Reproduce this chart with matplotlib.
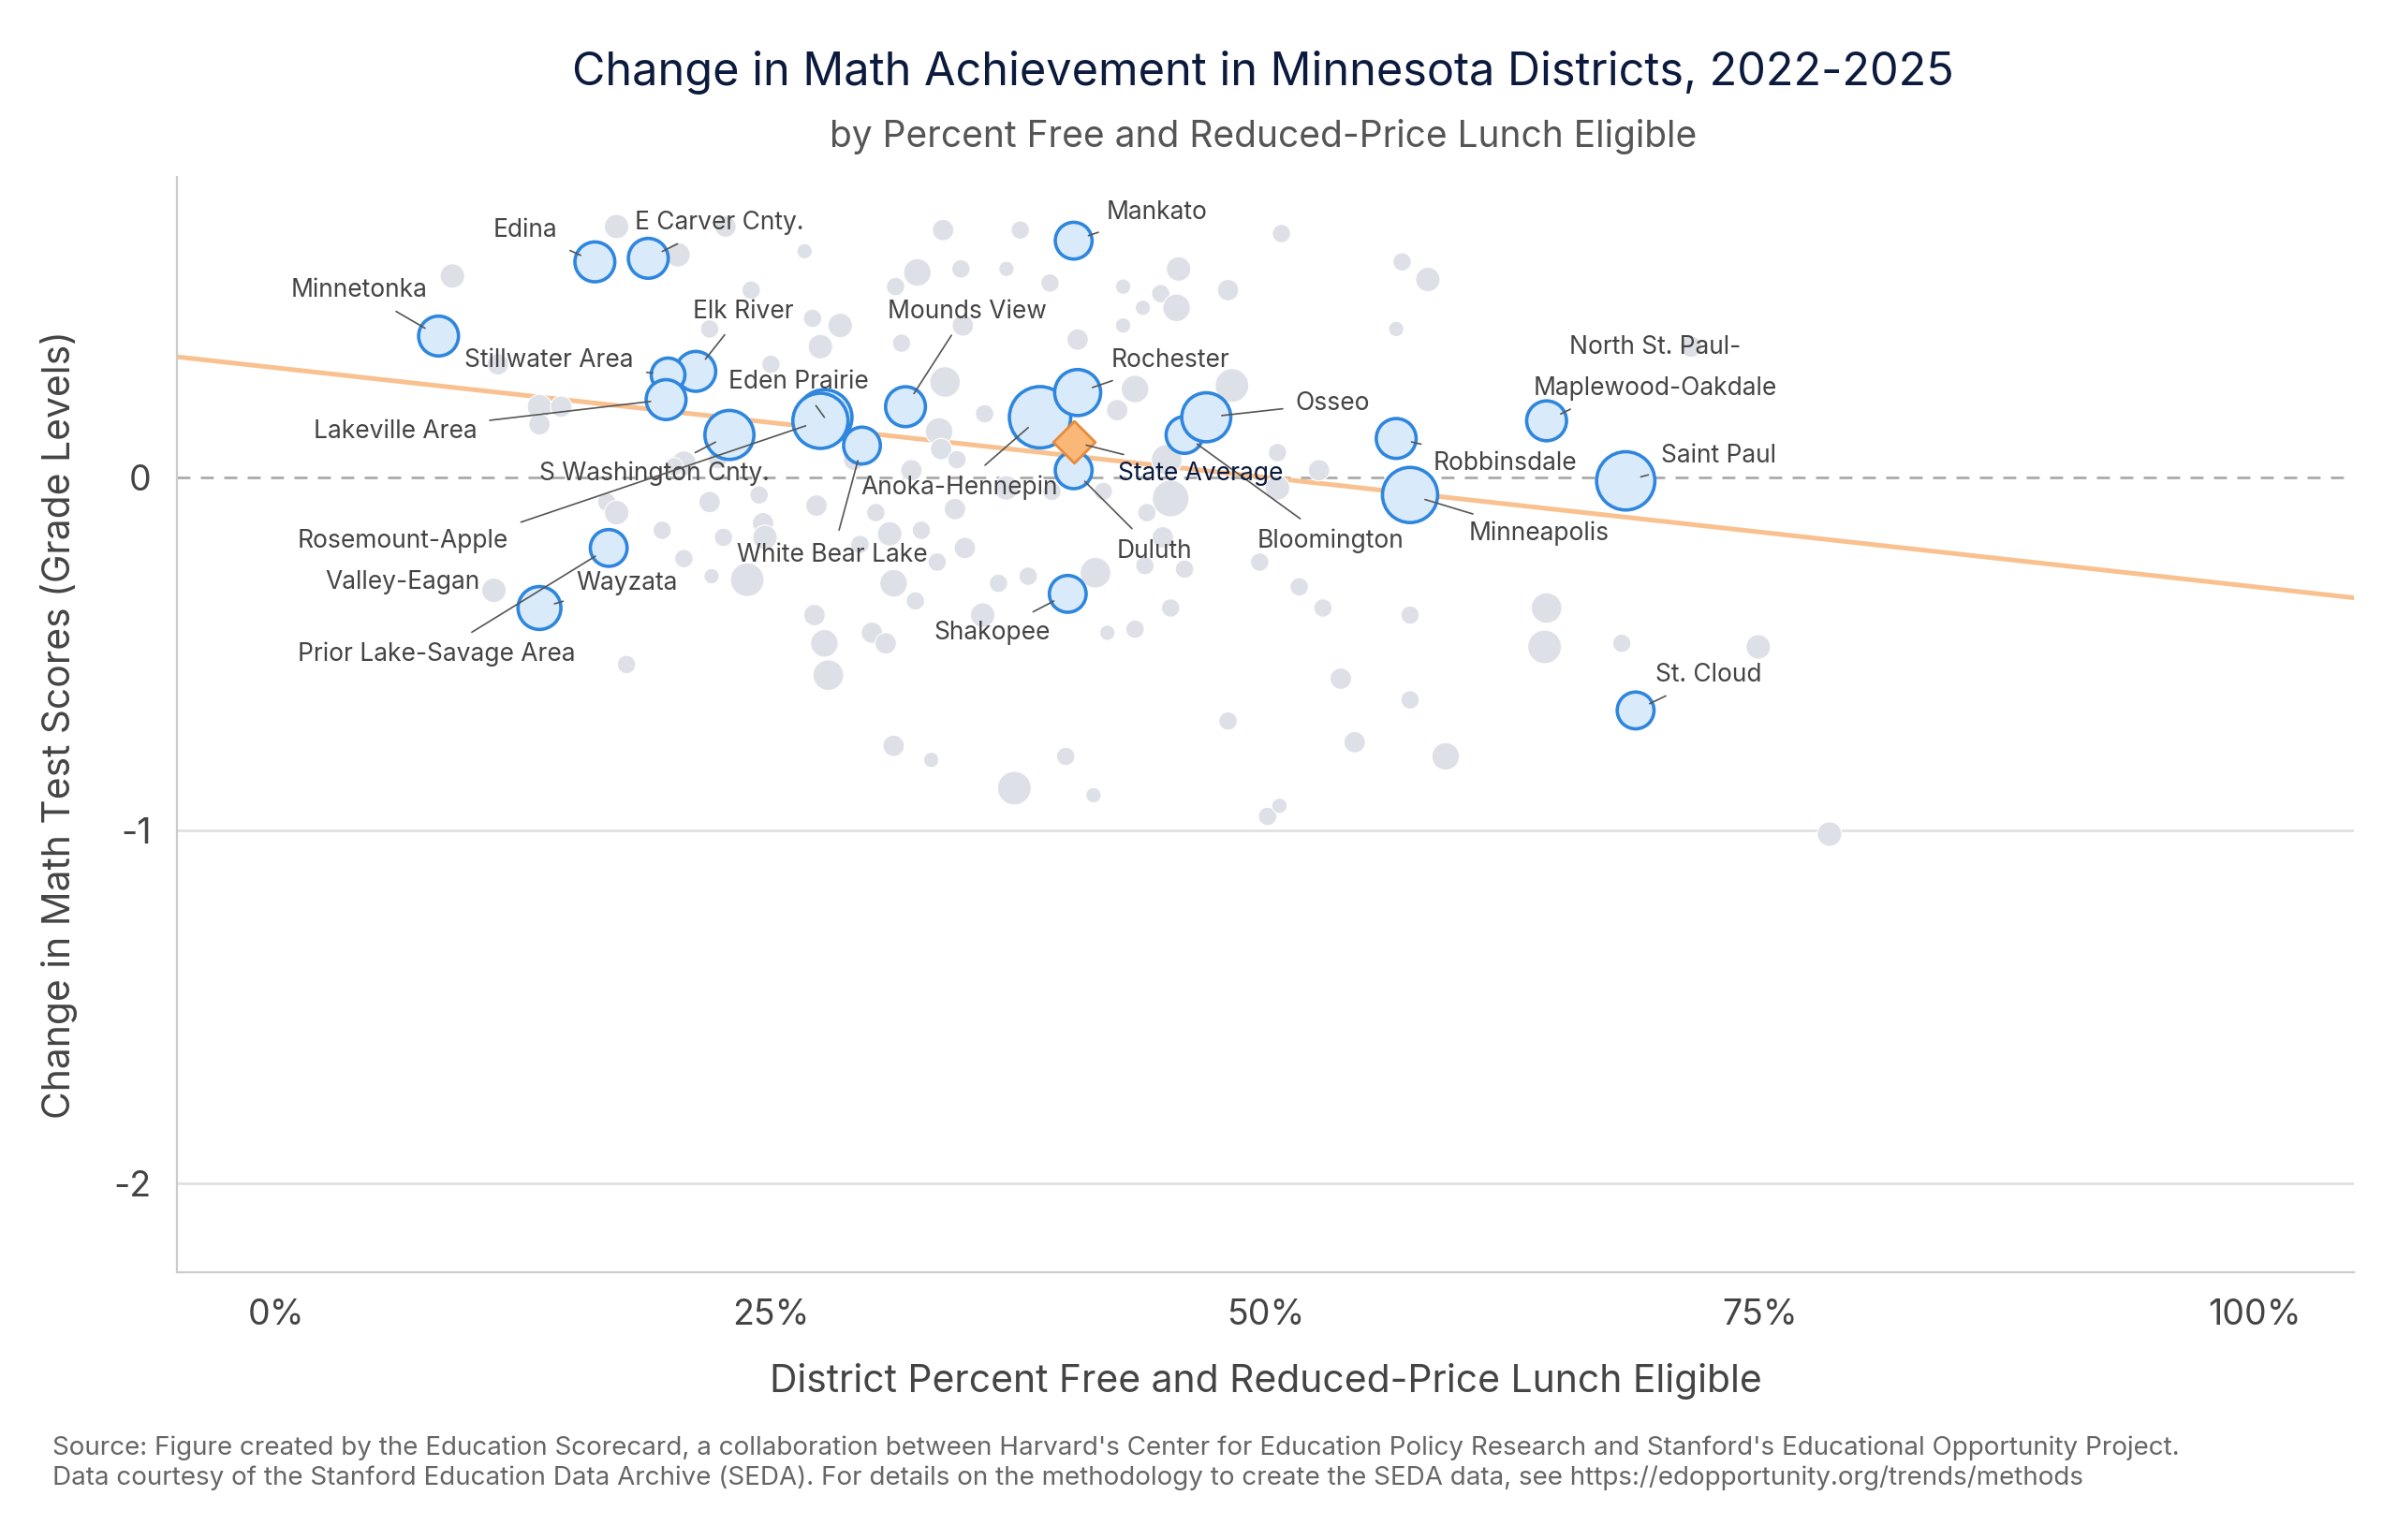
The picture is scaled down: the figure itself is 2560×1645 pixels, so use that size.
import matplotlib.pyplot as plt
from matplotlib.ticker import FuncFormatter

plt.rcParams["font.family"] = ["Inter", "DejaVu Sans"]

# background districts: percent FRL, change in grade levels, marker size (pt^2)
bg_x = [8.9, 17.2, 20.3, 22.7, 26.7, 33.7, 37.6, 50.8, 56.9, 58.2, 45.6, 32.4, 31.3, 34.6, 36.9,
        39.1, 42.8, 44.7, 48.1, 45.5, 43.8, 24.0, 28.5, 27.1, 27.5, 21.9, 34.7, 40.5, 42.8, 56.6,
        71.5, 11.2, 13.3, 14.4, 13.3, 20.6, 20.1, 21.9, 22.3, 24.4, 24.6, 24.7, 22.6, 19.5, 22.0,
        20.6, 23.8, 11.0, 16.7, 17.2, 17.7, 27.2, 27.7, 27.9, 30.1, 31.2, 31.2, 33.1, 29.5, 30.3,
        31.0, 32.6, 34.8, 33.4, 35.7, 36.5, 38.0, 41.4, 42.0, 43.4, 44.0, 44.8, 43.9, 45.9, 45.2,
        45.0, 48.3, 43.4, 42.5, 33.8, 33.5, 35.8, 33.6, 32.1, 34.4, 36.9, 34.3, 39.2, 41.8, 50.6,
        52.7, 49.7, 51.7, 52.9, 53.8, 54.5, 57.3, 57.3, 59.1, 64.2, 64.1, 68.0, 74.9, 78.5, 50.1,
        50.7, 48.1, 41.3, 39.9, 37.3, 29.2, 23.4, 31.6, 25.0, 50.6, 45.2, 32.3, 30.8, 27.3]
bg_y = [0.57, 0.71, 0.63, 0.71, 0.64, 0.70, 0.70, 0.69, 0.61, 0.56, 0.59, 0.58, 0.54, 0.59, 0.59,
        0.55, 0.54, 0.52, 0.53, 0.48, 0.48, 0.53, 0.43, 0.45, 0.37, 0.42, 0.43, 0.39, 0.43, 0.42,
        0.37, 0.32, 0.20, 0.20, 0.15, 0.04, 0.03, -0.07, 0.05, -0.05, -0.13, -0.17, -0.17, -0.15, -0.28,
        -0.23, -0.29, -0.32, -0.07, -0.10, -0.53, -0.39, -0.47, -0.56, -0.44, -0.30, -0.76, -0.80, -0.19, -0.10,
        -0.16, -0.15, -0.20, -0.24, -0.39, -0.30, -0.28, -0.27, -0.44, -0.43, -0.10, -0.17, -0.25, -0.26, -0.06,
        0.05, 0.26, 0.25, 0.19, 0.27, 0.13, 0.18, 0.08, 0.02, 0.05, -0.03, -0.09, -0.04, -0.04, -0.03,
        0.02, -0.24, -0.31, -0.37, -0.57, -0.75, -0.39, -0.63, -0.79, -0.37, -0.48, -0.47, -0.48, -1.01, -0.96,
        -0.93, -0.69, -0.90, -0.79, -0.88, 0.05, 0.12, 0.38, 0.32, 0.07, -0.37, -0.35, -0.47, -0.08]
bg_s = [89, 89, 89, 68, 35, 68, 50, 50, 50, 89, 89, 113, 50, 50, 35,
        50, 35, 50, 68, 113, 35, 50, 89, 50, 89, 50, 68, 68, 35, 35,
        68, 68, 89, 68, 68, 89, 50, 68, 50, 50, 68, 89, 50, 50, 35,
        50, 168, 89, 50, 89, 50, 68, 113, 139, 68, 113, 68, 35, 50, 50,
        89, 50, 68, 50, 89, 50, 50, 139, 35, 50, 50, 68, 50, 50, 200,
        139, 168, 113, 68, 139, 113, 50, 68, 68, 50, 89, 68, 50, 50, 89,
        68, 50, 50, 50, 68, 68, 50, 50, 113, 139, 168, 50, 89, 89, 50,
        35, 50, 35, 50, 168, 68, 68, 50, 50, 50, 50, 50, 68, 68]

# highlighted districts
names = ["Minnetonka", "Edina", "E Carver Cnty.", "Elk River", "Stillwater Area", "Lakeville Area",
         "Eden Prairie", "S Washington Cnty.", "White Bear Lake", "Mounds View",
         "Rosemount-Apple\nValley-Eagan", "Wayzata", "Prior Lake-Savage Area", "Anoka-Hennepin",
         "Rochester", "Mankato", "Duluth", "Shakopee", "Bloomington", "Osseo", "Robbinsdale",
         "Minneapolis", "North St. Paul-\nMaplewood-Oakdale", "Saint Paul", "St. Cloud"]
hx = [8.2, 16.1, 18.8, 21.2, 19.8, 19.7, 27.7, 22.9, 29.6, 31.8, 27.5, 13.3, 16.8, 38.6,
      40.5, 40.3, 40.3, 40.0, 45.9, 47.0, 56.6, 57.3, 64.2, 68.2, 68.7]
hy = [0.40, 0.61, 0.62, 0.30, 0.29, 0.22, 0.17, 0.12, 0.09, 0.20, 0.16, -0.37, -0.20, 0.17,
      0.24, 0.67, 0.02, -0.33, 0.12, 0.17, 0.11, -0.05, 0.16, -0.01, -0.66]
hs = [235, 235, 235, 235, 168, 235, 450, 355, 200, 235, 450, 272, 200, 556,
      313, 200, 200, 200, 200, 355, 235, 450, 235, 502, 200]
lab_x = [4.2, 12.6, 22.4, 23.6, 13.8, 6.0, 26.4, 19.1, 28.1, 34.9, 6.4, 17.7, 8.1, 34.5,
         45.2, 44.5, 44.4, 36.2, 53.3, 53.4, 62.1, 63.8, 69.7, 72.9, 72.4]
lab_y = [0.53, 0.70, 0.72, 0.47, 0.33, 0.13, 0.27, 0.01, -0.22, 0.47, -0.24, -0.30, -0.50, -0.03,
         0.33, 0.75, -0.21, -0.44, -0.18, 0.21, 0.04, -0.16, 0.31, 0.06, -0.56]

state_x, state_y = 40.3, 0.10
trend_x = [-5, 105]
trend_y = [0.341, -0.341]

fig = plt.figure(figsize=(12.8, 8.225), dpi=200)
ax = fig.add_axes([0.074, 0.174, 0.908, 0.711])

ax.axhline(-1, color="#dddddd", lw=0.9, zorder=0)
ax.axhline(-2, color="#dddddd", lw=0.9, zorder=0)
ax.axhline(0, color="#aaaaaa", lw=1.0, ls=(0, (5, 4)), zorder=0)
ax.plot(trend_x, trend_y, color="#f9c18f", lw=1.8, zorder=1)

ax.scatter(bg_x, bg_y, s=bg_s, color="#dde1e7", edgecolor="white", lw=0.4, zorder=2)
ax.scatter(hx, hy, s=hs, color="#d9ebfb", edgecolor="#2e86de", lw=1.3, zorder=3)
ax.scatter([state_x], [state_y], s=130, marker="D", color="#f9b878", edgecolor="#e88a3a",
           lw=1.0, zorder=4)

for n, x, y, tx, ty in zip(names, hx, hy, lab_x, lab_y):
    ax.annotate(n, (x, y), xytext=(tx, ty), fontsize=9.5, color="#444444", ha="center",
                va="center", linespacing=1.9,
                arrowprops=dict(arrowstyle="-", color="#555555", lw=0.6, shrinkA=3, shrinkB=6),
                zorder=5)
ax.annotate("State Average", (state_x, state_y), xytext=(46.7, 0.01), fontsize=9.5,
            color="#0b1a3d", ha="center", va="center",
            arrowprops=dict(arrowstyle="-", color="#555555", lw=0.6, shrinkA=3, shrinkB=5), zorder=5)

ax.set_xlim(-5, 105)
ax.set_ylim(-2.25, 0.85)
ax.set_xticks([0, 25, 50, 75, 100])
ax.xaxis.set_major_formatter(FuncFormatter(lambda v, p: f"{v:.0f}%"))
ax.set_yticks([-2, -1, 0])
ax.yaxis.set_major_formatter(FuncFormatter(lambda v, p: f"{v:.0f}"))
ax.tick_params(labelsize=13.5, colors="#444444", length=0, pad=10)
for side in ["top", "right"]:
    ax.spines[side].set_visible(False)
for side in ["left", "bottom"]:
    ax.spines[side].set_color("#cccccc")
ax.set_xlabel("District Percent Free and Reduced-Price Lunch Eligible", fontsize=14.7,
              color="#444444", labelpad=12)
ax.set_ylabel("Change in Math Test Scores (Grade Levels)", fontsize=14.7, color="#444444",
              labelpad=14)

fig.text(0.527, 0.953, "Change in Math Achievement in Minnesota Districts, 2022-2025",
         ha="center", va="center", fontsize=17.5, color="#0b1a3d")
fig.text(0.527, 0.911, "by Percent Free and Reduced-Price Lunch Eligible",
         ha="center", va="center", fontsize=14, color="#555555")
fig.text(0.022, 0.06, "Source: Figure created by the Education Scorecard, a collaboration between "
         "Harvard's Center for Education Policy Research and Stanford's Educational Opportunity Project.",
         fontsize=10, color="#666666", va="center")
fig.text(0.022, 0.04, "Data courtesy of the Stanford Education Data Archive (SEDA). For details on the "
         "methodology to create the SEDA data, see https://edopportunity.org/trends/methods",
         fontsize=10, color="#666666", va="center")

fig.savefig("out.png", dpi=200)
